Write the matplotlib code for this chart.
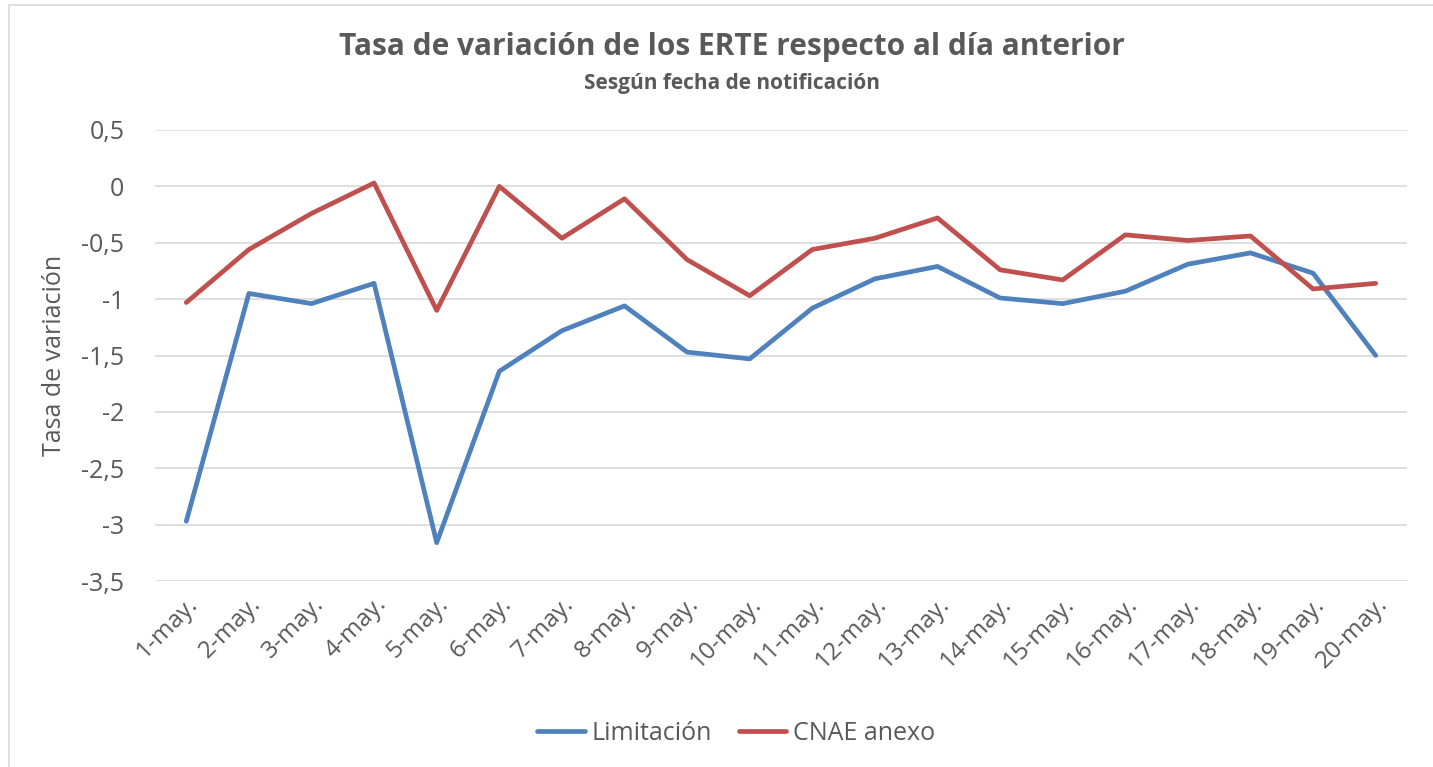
import matplotlib
matplotlib.use("Agg")
import matplotlib.pyplot as plt
from matplotlib.patches import Rectangle

categories = ["1-may.", "2-may.", "3-may.", "4-may.", "5-may.", "6-may.", "7-may.",
              "8-may.", "9-may.", "10-may.", "11-may.", "12-may.", "13-may.", "14-may.",
              "15-may.", "16-may.", "17-may.", "18-may.", "19-may.", "20-may."]
limitacion = [-2.97, -0.95, -1.04, -0.86, -3.16, -1.64, -1.28, -1.06, -1.47, -1.53,
              -1.08, -0.82, -0.71, -0.99, -1.04, -0.93, -0.69, -0.59, -0.77, -1.50]
cnae_anexo = [-1.03, -0.56, -0.24, 0.03, -1.10, 0.00, -0.46, -0.11, -0.65, -0.97,
              -0.56, -0.46, -0.28, -0.74, -0.83, -0.43, -0.48, -0.44, -0.91, -0.86]
yticks = [0.5, 0, -0.5, -1, -1.5, -2, -2.5, -3, -3.5]
ytick_labels = ["0,5", "0", "-0,5", "-1", "-1,5", "-2", "-2,5", "-3", "-3,5"]

plt.rcParams['font.family'] = ['Open Sans', 'DejaVu Sans']
txt = "#595959"

fig = plt.figure(figsize=(14.33, 7.67), dpi=100)
fig.patches.append(Rectangle((0.006, -0.01), 1.2, 1.003, transform=fig.transFigure,
                             fill=False, edgecolor="#D9D9D9", linewidth=1.2))
ax = fig.add_axes([155/1433, 1-581/767, (1407-155)/1433, (581-130)/767])

x = list(range(len(categories)))
ax.plot(x, limitacion, color="#4F81BD", lw=3.4, label="Limitación", solid_capstyle="round", solid_joinstyle="round")
ax.plot(x, cnae_anexo, color="#C0504D", lw=3.4, label="CNAE anexo", solid_capstyle="round", solid_joinstyle="round")

ax.set_xlim(-0.5, len(categories) - 0.5)
ax.set_ylim(-3.5, 0.5)
ax.set_yticks(yticks)
ax.set_yticklabels(ytick_labels, fontsize=18, color=txt)
ax.set_xticks(x)
ax.set_xticklabels(categories, rotation=45, ha="right", rotation_mode="anchor",
                   fontsize=17.5, color=txt)
ax.tick_params(axis="both", length=0)
ax.tick_params(axis="y", pad=22)
ax.tick_params(axis="x", pad=8)
ax.grid(axis="y", color="#D9D9D9", lw=1.2)
ax.set_axisbelow(True)
for s in ax.spines.values():
    s.set_visible(False)

ax.set_ylabel("Tasa de variación", fontsize=18, color=txt, labelpad=10)

fig.text(0.511, 1-47/767, "Tasa de variación de los ERTE respecto al día anterior",
         ha="center", va="center", fontsize=21.5, fontweight="bold", color=txt)
fig.text(0.511, 1-84/767, "Sesgún fecha de notificación",
         ha="center", va="center", fontsize=15, fontweight="bold", color=txt)

fig.legend(loc="center", bbox_to_anchor=(736/1433, 1-733/767), ncol=2, frameon=False,
           fontsize=18, labelcolor=txt, handlelength=1.9, handletextpad=0.25,
           columnspacing=1.1)

fig.savefig("out.png", dpi=100)
